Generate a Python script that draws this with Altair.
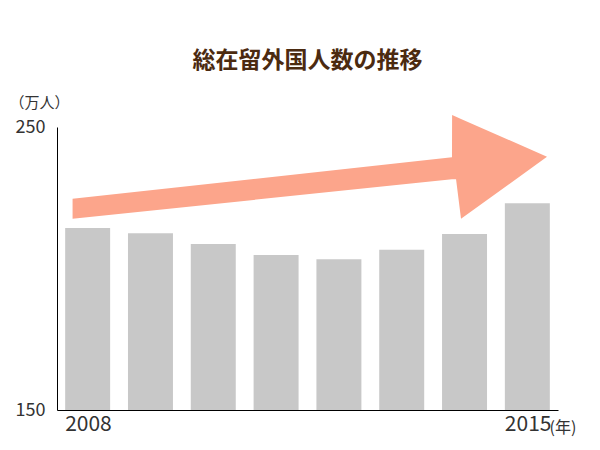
import altair as alt
import pandas as pd

# Bar data (万人)
years = ["2008", "2009", "2010", "2011", "2012", "2013", "2014", "2015"]
residents = [214.3, 212.5, 208.7, 204.8, 203.3, 206.6, 212.2, 223.1]

# Decorative trend arrow outline, in data units (year position, 万人)
arrow_x = [2007.76, 2013.800, 2013.802, 2013.865, 2013.944, 2015.313]
arrow_top = [224.64, 239.28, 254.25, 253.61, 252.83, 239.49]
arrow_bottom = [217.56, 231.57, 231.57, 231.57, 217.56, 239.49]

df = pd.DataFrame({"year": years, "value": residents})
adf = pd.DataFrame({"ax": arrow_x, "atop": arrow_top, "abottom": arrow_bottom})

FONT = "Noto Sans CJK JP"
yscale = alt.Scale(domain=[150, 250], nice=False, zero=False)

bars = alt.Chart(df).mark_bar(color="#c8c8c8").encode(
    x=alt.X(
        "year:O",
        scale=alt.Scale(paddingInner=0.284, paddingOuter=0.13),
        axis=alt.Axis(
            title="(年)",
            labelExpr="datum.value == '2008' || datum.value == '2015' ? datum.label : ''",
            labelAlign="left",
            labelOffset=-22.5,
            labelPadding=3,
            labelBaseline="top",
            labelFontSize=21,
            labelFont=FONT,
            labelColor="#333333",
            labelAngle=0,
            ticks=False,
            grid=False,
            domainColor="#000000",
            domainWidth=1,
            titleX=492,
            titleY=22,
            titleAlign="left",
            titleBaseline="alphabetic",
            titleFontSize=16,
            titleFont=FONT,
            titleFontWeight="normal",
            titleColor="#333333",
        ),
    ),
    y=alt.Y(
        "value:Q",
        scale=yscale,
        axis=alt.Axis(
            values=[150, 250],
            title="（万人）",
            titleAngle=0,
            titleX=-18,
            titleY=-25,
            titleAlign="center",
            titleBaseline="middle",
            titleFontSize=15,
            titleFont=FONT,
            titleFontWeight="normal",
            titleColor="#333333",
            ticks=False,
            grid=False,
            labelPadding=12,
            labelFontSize=18,
            labelFont=FONT,
            labelColor="#333333",
            labelBaseline="middle",
            domainColor="#000000",
            domainWidth=1,
        ),
    ),
    y2=alt.datum(150),
)

arrow = alt.Chart(adf).mark_area(color="#fca58b", opacity=1).encode(
    x=alt.X("ax:Q", scale=alt.Scale(domain=[2007.512, 2015.488], nice=False, zero=False), axis=None),
    y=alt.Y("atop:Q", scale=yscale, axis=None),
    y2="abottom:Q",
)

chart = (
    alt.layer(bars, arrow)
    .resolve_scale(x="independent")
    .resolve_axis(x="independent", y="independent")
    .properties(
        width=501,
        height=283,
        padding={"left": 49, "top": 119, "right": 30, "bottom": 30},
        autosize="none",
        title=alt.Title(
            "総在留外国人数の推移",
            fontSize=23,
            font=FONT,
            fontWeight="bold",
            color="#4b2a10",
            anchor="middle",
            offset=22,
        ),
    )
    .configure_view(stroke=None)
)

chart.save("out.html", embed_options={"renderer": "svg", "actions": False})
